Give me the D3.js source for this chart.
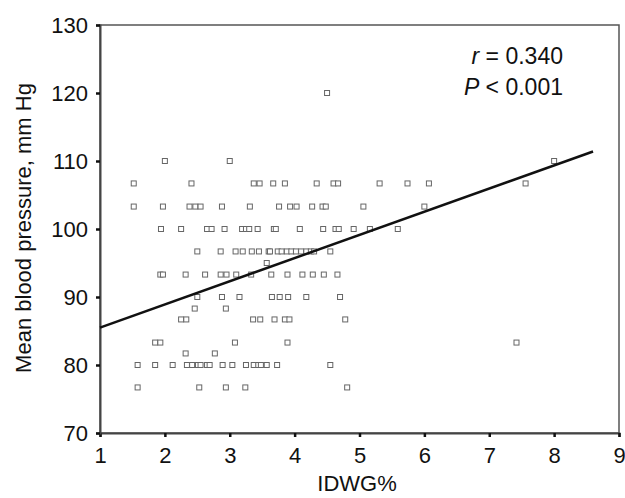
<!DOCTYPE html>
<html>
<head>
<meta charset="utf-8">
<script src="https://cdn.jsdelivr.net/npm/d3@7"></script>
<style>
  body { margin: 0; background: #fff; }
  text { font-family: "Liberation Sans", Arial, sans-serif; fill: #111; }
</style>
</head>
<body>
<div id="chart"></div>
<script>
// Mean blood pressure levels (mm Hg) seen in the plot
var mbpLevels = [120, 110, 106.7, 103.3, 100, 96.7, 95, 93.3, 90, 88.3, 86.7, 83.3, 81.7, 80, 76.7];

var idwgAtLevel = [
  [4.5],
  [2.0, 3.0, 8.0],
  [1.52, 2.41, 3.37, 3.46, 3.67, 3.85, 4.34, 4.6, 4.67, 5.31, 5.74, 6.07, 7.56],
  [1.52, 1.97, 2.38, 2.47, 2.55, 2.88, 3.31, 3.76, 3.93, 4.03, 4.27, 4.43, 4.48, 5.06, 6.0],
  [1.94, 2.25, 2.65, 2.72, 2.92, 3.19, 3.25, 3.3, 3.43, 3.68, 3.71, 4.08, 4.44, 4.63, 4.68, 4.91, 5.16, 5.59],
  [2.5, 2.86, 3.09, 3.2, 3.34, 3.45, 3.6, 3.62, 3.74, 3.8, 3.88, 3.95, 4.02, 4.1, 4.18, 4.25, 4.3, 4.55],
  [3.57],
  [1.93, 1.97, 2.32, 2.62, 2.86, 2.95, 3.1, 3.33, 3.64, 3.89, 4.12, 4.28, 4.45, 4.66],
  [2.5, 2.88, 3.15, 3.65, 3.77, 3.9, 4.18, 4.7],
  [2.46, 2.94],
  [2.25, 2.33, 3.36, 3.47, 3.69, 3.85, 3.92, 4.78],
  [1.85, 1.93, 3.08, 3.89, 7.42],
  [2.32, 2.77],
  [1.58, 1.85, 2.12, 2.34, 2.42, 2.51, 2.55, 2.65, 2.69, 2.89, 3.04, 3.25, 3.37, 3.44, 3.48, 3.57, 3.73, 4.55],
  [1.58, 2.53, 2.94, 3.24, 4.81]
];

// fitted regression line end points
var fitX = [1, 8.6];
var fitY = [85.5, 111.4];

var xTicks = [1, 2, 3, 4, 5, 6, 7, 8, 9];
var yTicks = [70, 80, 90, 100, 110, 120, 130];

var statLines = ["r", "P"];
var statText = [" = 0.340", " < 0.001"];

// build flat list of points
var points = [];
mbpLevels.forEach(function(level, i) {
  idwgAtLevel[i].forEach(function(v) {
    points.push({ idwg: v, mbp: level });
  });
});

var svgWidth = 625;
var svgHeight = 498;

var margin = { top: 25, right: 6, bottom: 65, left: 100 };
var width = svgWidth - margin.left - margin.right;
var height = svgHeight - margin.top - margin.bottom;

var svg = d3.select("#chart")
  .append("svg")
  .attr("width", svgWidth)
  .attr("height", svgHeight);

var chartGroup = svg.append("g")
  .attr("transform", `translate(${margin.left}, ${margin.top})`);

var xLinearScale = d3.scaleLinear().domain([1, 9]).range([0, width]);
var yLinearScale = d3.scaleLinear().domain([70, 130]).range([height, 0]);

// frame (top and right edges)
chartGroup.append("rect")
  .attr("x", 0)
  .attr("y", 0)
  .attr("width", width)
  .attr("height", height)
  .attr("fill", "none")
  .attr("stroke", "#555")
  .attr("stroke-width", 1.5);

// axes
var bottomAxis = d3.axisBottom(xLinearScale).tickValues(xTicks).tickSize(4).tickPadding(10).tickFormat(d3.format("d"));
var leftAxis = d3.axisLeft(yLinearScale).tickValues(yTicks).tickSize(4).tickPadding(8).tickFormat(d3.format("d"));

var xAxis = chartGroup.append("g")
  .attr("transform", `translate(0, ${height})`)
  .call(bottomAxis);

var yAxis = chartGroup.append("g")
  .call(leftAxis);

[xAxis, yAxis].forEach(function(ax) {
  ax.select(".domain").attr("stroke", "#444").attr("stroke-width", 2);
  ax.selectAll(".tick line").attr("stroke", "#111").attr("stroke-width", 2.5);
  ax.selectAll(".tick text")
    .style("font-family", "'Liberation Sans', Arial, sans-serif")
    .style("font-size", "22px")
    .attr("fill", "#111");
});

// scatter markers
chartGroup.selectAll(".pt")
  .data(points)
  .enter()
  .append("rect")
  .classed("pt", true)
  .attr("x", d => xLinearScale(d.idwg) - 2.5)
  .attr("y", d => yLinearScale(d.mbp) - 2.5)
  .attr("width", 5)
  .attr("height", 5)
  .attr("fill", "#fff")
  .attr("stroke", "#666")
  .attr("stroke-width", 1);

// regression line
var fitLine = d3.line()
  .x(d => xLinearScale(d[0]))
  .y(d => yLinearScale(d[1]));

chartGroup.append("path")
  .datum(fitX.map((x, i) => [x, fitY[i]]))
  .attr("d", fitLine)
  .attr("fill", "none")
  .attr("stroke", "#111")
  .attr("stroke-width", 2.5);

// stats annotation
statLines.forEach(function(s, i) {
  var t = chartGroup.append("text")
    .attr("x", 463)
    .attr("y", 39 + i * 31)
    .attr("text-anchor", "end")
    .style("font-size", "23px");
  t.append("tspan").style("font-style", "italic").text(s);
  t.append("tspan").text(statText[i]);
});

// axis titles
svg.append("text")
  .attr("x", 357)
  .attr("y", 491)
  .attr("text-anchor", "middle")
  .style("font-size", "22px")
  .text("IDWG%");

svg.append("text")
  .attr("transform", `translate(31, 228) rotate(-90)`)
  .attr("text-anchor", "middle")
  .style("font-size", "22px")
  .text("Mean blood pressure, mm Hg");
</script>
</body>
</html>
